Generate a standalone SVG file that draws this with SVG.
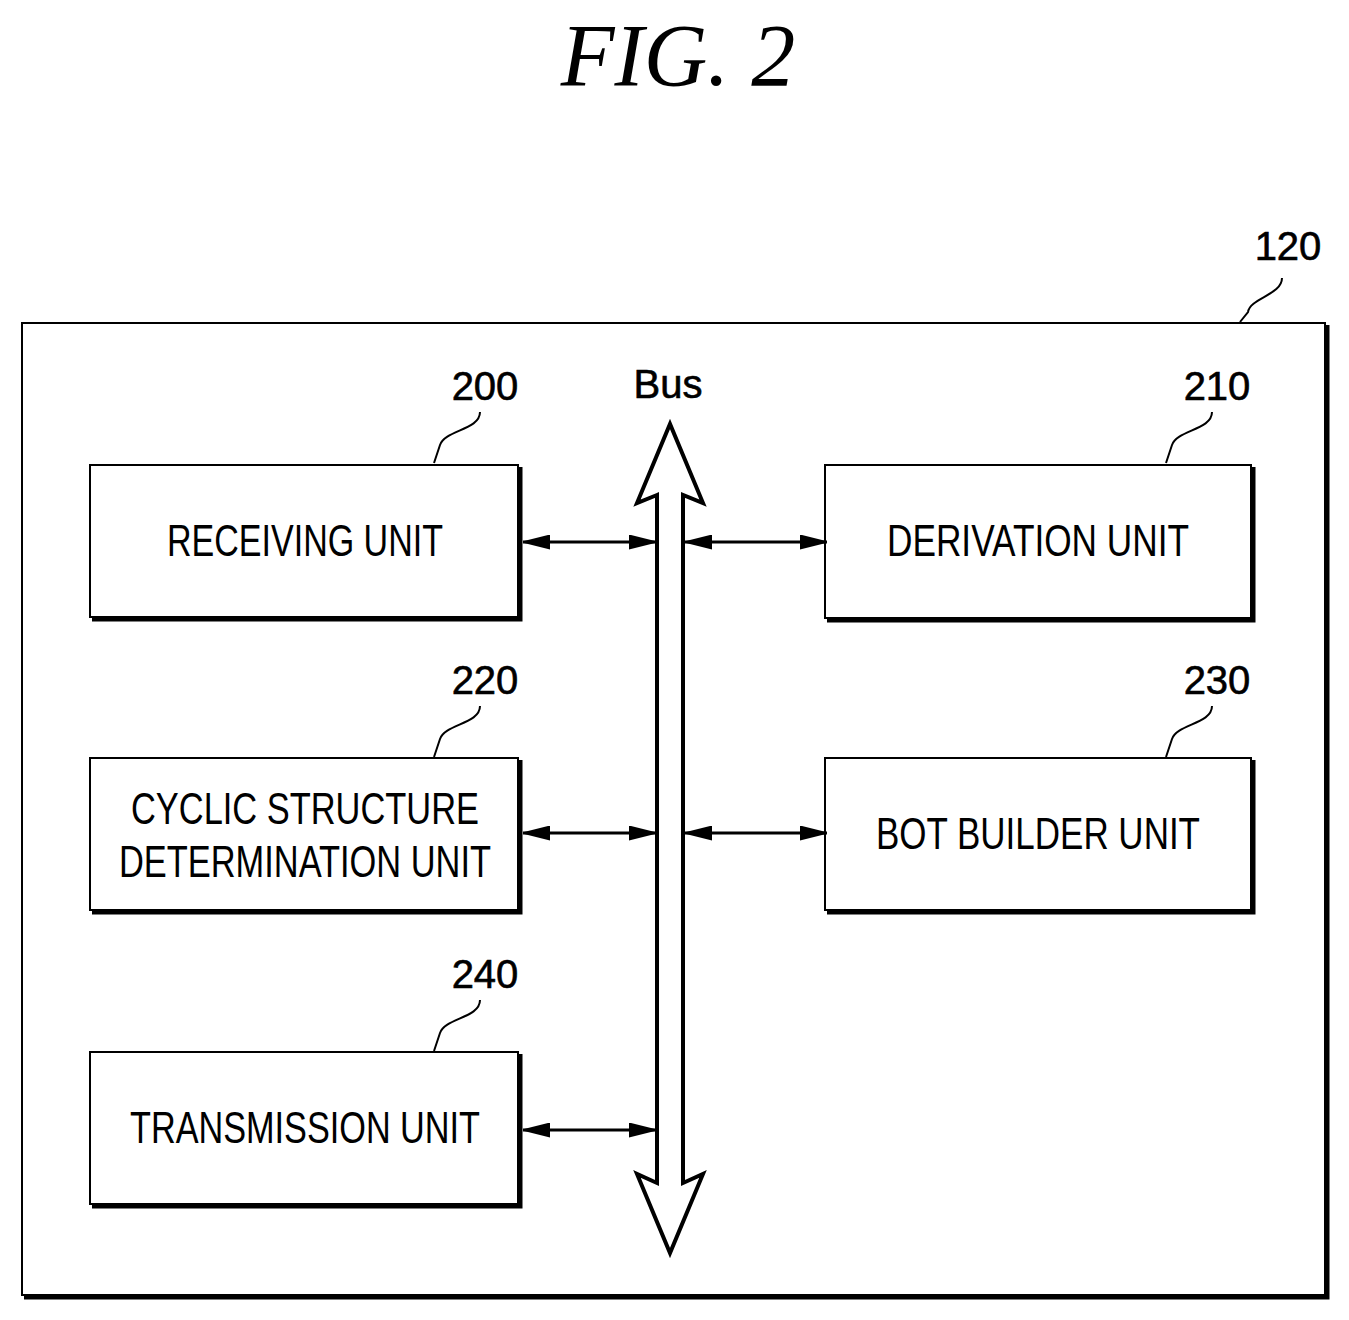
<svg xmlns="http://www.w3.org/2000/svg" width="1349" height="1320" viewBox="0 0 1349 1320">
<defs>
<style>
.box{fill:#fff;stroke:#000;stroke-width:2}
.sh{fill:none;stroke:#000;stroke-width:5}
.lbl{font-family:"Liberation Sans",Arial,sans-serif;font-size:44px;text-anchor:middle;fill:#000}
.num{font-family:"Liberation Sans",Arial,sans-serif;font-size:40px;text-anchor:middle;fill:#000;stroke:#000;stroke-width:0.6}
.ld{fill:none;stroke:#000;stroke-width:2}
.con{stroke:#000;stroke-width:3;fill:none}
</style>
<marker id="ah" viewBox="0 0 10 10" refX="10" refY="5" markerWidth="9" markerHeight="5" orient="auto-start-reverse" markerUnits="strokeWidth" preserveAspectRatio="none"><path d="M0,0 L10,4.5 L10,5.5 L0,10 Z" fill="#000"/></marker>
</defs>
<rect width="1349" height="1320" fill="#fff"/>
<text x="678" y="85" font-family="Liberation Serif,serif" font-style="italic" font-size="88" text-anchor="middle">FIG. 2</text>
<g id="frame">
<rect class="box" x="22" y="323" width="1303" height="972"/>
<path class="sh" d="M1327,325 V1297 H24"/>
<text class="num" x="1288" y="260">120</text>
<path class="ld" d="M1282,278 C1282,295 1250,298 1248,312 L1240,322"/>
</g>
<g id="n200">
<rect class="box" x="90" y="465" width="428" height="152"/>
<path class="sh" d="M520,467 V619 H92"/>
<text class="lbl" x="305" y="556" textLength="276" lengthAdjust="spacingAndGlyphs">RECEIVING UNIT</text>
<text class="num" x="485" y="400">200</text>
<path class="ld" d="M480,412 C480,430 445,430 440,445 L434,463"/>
</g>
<g id="n210">
<rect class="box" x="825" y="465" width="426" height="153"/>
<path class="sh" d="M1253,467 V620 H827"/>
<text class="lbl" x="1038" y="556" textLength="302" lengthAdjust="spacingAndGlyphs">DERIVATION UNIT</text>
<text class="num" x="1217" y="400">210</text>
<path class="ld" d="M1212,412 C1212,430 1177,430 1172,445 L1166,463"/>
</g>
<g id="n220">
<rect class="box" x="90" y="758" width="428" height="152"/>
<path class="sh" d="M520,760 V912 H92"/>
<text class="lbl" x="305" y="824" textLength="348" lengthAdjust="spacingAndGlyphs">CYCLIC STRUCTURE</text>
<text class="lbl" x="305" y="877" textLength="372" lengthAdjust="spacingAndGlyphs">DETERMINATION UNIT</text>
<text class="num" x="485" y="694">220</text>
<path class="ld" d="M480,706 C480,724 445,724 440,739 L434,757"/>
</g>
<g id="n230">
<rect class="box" x="825" y="758" width="426" height="152"/>
<path class="sh" d="M1253,760 V912 H827"/>
<text class="lbl" x="1038" y="849" textLength="324" lengthAdjust="spacingAndGlyphs">BOT BUILDER UNIT</text>
<text class="num" x="1217" y="694">230</text>
<path class="ld" d="M1212,706 C1212,724 1177,724 1172,739 L1166,757"/>
</g>
<g id="n240">
<rect class="box" x="90" y="1052" width="428" height="152"/>
<path class="sh" d="M520,1054 V1206 H92"/>
<text class="lbl" x="305" y="1143" textLength="350" lengthAdjust="spacingAndGlyphs">TRANSMISSION UNIT</text>
<text class="num" x="485" y="988">240</text>
<path class="ld" d="M480,1000 C480,1018 445,1018 440,1033 L434,1051"/>
</g>
<g id="bus">
<path d="M657,495 L637,503 L670,424 L703,503 L683,495 V1183 L703,1174 L670,1253 L637,1174 L657,1183 Z" fill="#fff" stroke="#000" stroke-width="4" stroke-linejoin="miter"/>
<text class="num" x="668" y="398" font-size="38">Bus</text>
</g>
<g id="connectors">
<line class="con" x1="523" y1="542" x2="656" y2="542" marker-start="url(#ah)" marker-end="url(#ah)"/>
<line class="con" x1="685" y1="542" x2="827" y2="542" marker-start="url(#ah)" marker-end="url(#ah)"/>
<line class="con" x1="523" y1="833" x2="656" y2="833" marker-start="url(#ah)" marker-end="url(#ah)"/>
<line class="con" x1="685" y1="833" x2="827" y2="833" marker-start="url(#ah)" marker-end="url(#ah)"/>
<line class="con" x1="523" y1="1130" x2="656" y2="1130" marker-start="url(#ah)" marker-end="url(#ah)"/>
</g>
</svg>
